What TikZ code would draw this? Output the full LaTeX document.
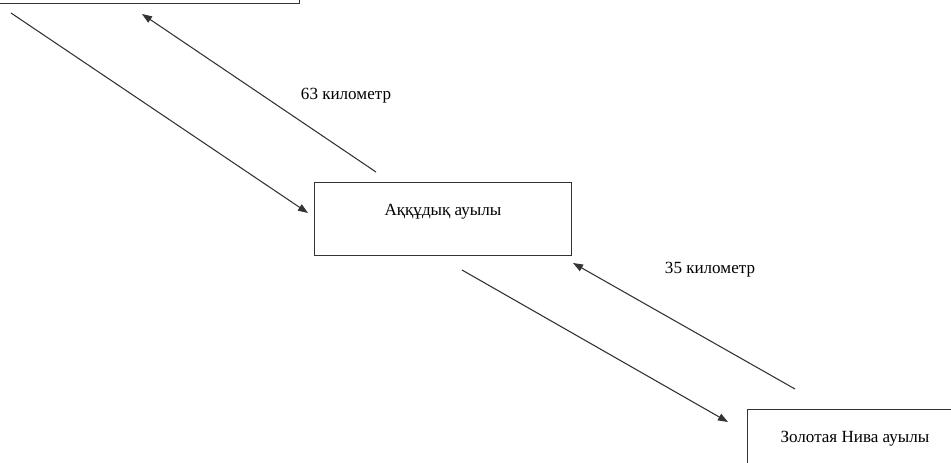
\documentclass[tikz,border=0pt]{standalone}
\usepackage{fontspec}
\setmainfont{Liberation Serif}
\usetikzlibrary{arrows.meta}
\begin{document}
\begin{tikzpicture}[x=0.75pt,y=-0.75pt,
  box/.style={draw=black!80,line width=1pt,fill=white},
  conn/.style={draw=black!80,line width=0.8pt,-{Triangle[length=7.5pt,width=5.5pt]}},
  lbl/.style={font=\fontsize{12.8pt}{15pt}\selectfont}]
\useasboundingbox (0,0) rectangle (951,463);
\clip (0,0) rectangle (951,463);
\node[box,minimum width=330*0.75pt,minimum height=80*0.75pt,anchor=south east] (top) at (300,4) {};
\node[box,minimum width=257*0.75pt,minimum height=73*0.75pt,anchor=north west] (mid) at (314,182) {};
\node[lbl] (midtext) at (443,212) {Аққұдық ауылы};
\node[box,minimum width=230*0.75pt,minimum height=70*0.75pt,anchor=north west] (bot) at (747,409) {};
\node[lbl] (bottext) at (855,439) {Золотая Нива ауылы};
\coordinate (a1s) at (11,13);
\coordinate (a1e) at (308,213);
\coordinate (a2s) at (376,172);
\coordinate (a2e) at (142,14);
\coordinate (a3s) at (462,270);
\coordinate (a3e) at (728,422);
\coordinate (a4s) at (795,389);
\coordinate (a4e) at (573,263);
\draw[conn] (a1s) -- (a1e);
\draw[conn] (a2s) -- (a2e);
\draw[conn] (a3s) -- (a3e);
\draw[conn] (a4s) -- (a4e);
\node[lbl] (l1) at (346,96) {63 километр};
\node[lbl] (l2) at (710,270) {35 километр};
\end{tikzpicture}
\end{document}
